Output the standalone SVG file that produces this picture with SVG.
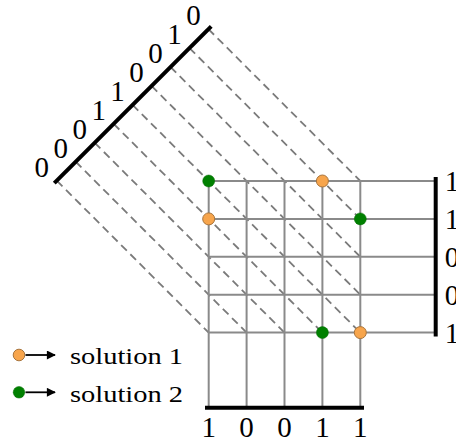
<svg xmlns="http://www.w3.org/2000/svg" width="456" height="443" viewBox="0 0 456 443">
<style>
.dash{stroke:#7a7a7a;stroke-width:1.8;stroke-dasharray:8 5;fill:none}
.grid{stroke:#8a8a8a;stroke-width:2;fill:none}
.bar{stroke:#000;stroke-width:4;fill:none}
.lbl{font-family:"Liberation Serif","DejaVu Serif",serif;font-size:29px;fill:#000;text-anchor:middle}
.leg{font-family:"Liberation Serif","DejaVu Serif",serif;font-size:24px;fill:#000}
.s1{fill:#f7a54c;stroke:#a8743c;stroke-width:1}
.s2{fill:#008000;stroke:#006b00;stroke-width:0.5}
.arr{stroke:#000;stroke-width:1.8;fill:none}
</style>
<defs>
<marker id="ah" viewBox="0 0 10 10" refX="9" refY="5" markerWidth="11" markerHeight="9" orient="auto" markerUnits="userSpaceOnUse">
<path d="M0,0 L10,5 L0,10 z" fill="#000"/>
</marker>
</defs>
<g id="connectors">
<line class="dash" x1="56.8" y1="180.7" x2="208.7" y2="332.6"/>
<line class="dash" x1="75.75" y1="161.75" x2="246.6" y2="332.6"/>
<line class="dash" x1="94.7" y1="142.8" x2="284.5" y2="332.6"/>
<line class="dash" x1="113.65" y1="123.85" x2="322.4" y2="332.6"/>
<line class="dash" x1="132.6" y1="104.9" x2="360.3" y2="332.6"/>
<line class="dash" x1="151.55" y1="85.95" x2="360.3" y2="294.7"/>
<line class="dash" x1="170.5" y1="67" x2="360.3" y2="256.8"/>
<line class="dash" x1="189.45" y1="48.05" x2="360.3" y2="218.9"/>
<line class="dash" x1="208.4" y1="29.1" x2="360.3" y2="181"/>
</g>
<g id="grid">
<line class="grid" x1="208.7" y1="181" x2="435.7" y2="181"/>
<line class="grid" x1="208.7" y1="218.9" x2="435.7" y2="218.9"/>
<line class="grid" x1="208.7" y1="256.8" x2="435.7" y2="256.8"/>
<line class="grid" x1="208.7" y1="294.7" x2="435.7" y2="294.7"/>
<line class="grid" x1="208.7" y1="332.6" x2="435.7" y2="332.6"/>
<line class="grid" x1="208.7" y1="181" x2="208.7" y2="407.7"/>
<line class="grid" x1="246.6" y1="181" x2="246.6" y2="407.7"/>
<line class="grid" x1="284.5" y1="181" x2="284.5" y2="407.7"/>
<line class="grid" x1="322.4" y1="181" x2="322.4" y2="407.7"/>
<line class="grid" x1="360.3" y1="181" x2="360.3" y2="407.7"/>
</g>
<g id="diag-bar">
<line class="bar" x1="54.3" y1="183.2" x2="211.2" y2="26.3"/>
<text class="lbl" x="41.8" y="177">0</text>
<text class="lbl" x="60.75" y="158">0</text>
<text class="lbl" x="79.7" y="139.1">0</text>
<text class="lbl" x="98.65" y="120.2">1</text>
<text class="lbl" x="117.6" y="101.2">1</text>
<text class="lbl" x="136.55" y="82.3">0</text>
<text class="lbl" x="155.5" y="63.3">0</text>
<text class="lbl" x="174.45" y="44.4">1</text>
<text class="lbl" x="193.4" y="25.4">0</text>
</g>
<g id="right-bar">
<line class="bar" x1="435.7" y1="177" x2="435.7" y2="336.5"/>
<text class="lbl" x="452" y="191">1</text>
<text class="lbl" x="452" y="228.9">1</text>
<text class="lbl" x="452" y="266.8">0</text>
<text class="lbl" x="452" y="304.7">0</text>
<text class="lbl" x="452" y="342.6">1</text>
</g>
<g id="bottom-bar">
<line class="bar" x1="205" y1="407.7" x2="364" y2="407.7"/>
<text class="lbl" x="208.7" y="437">1</text>
<text class="lbl" x="246.6" y="437">0</text>
<text class="lbl" x="284.5" y="437">0</text>
<text class="lbl" x="322.4" y="437">1</text>
<text class="lbl" x="360.3" y="437">1</text>
</g>
<g id="solution1-points">
<circle class="s1" cx="322.4" cy="181" r="6"/>
<circle class="s1" cx="208.7" cy="218.9" r="6"/>
<circle class="s1" cx="360.3" cy="332.6" r="6"/>
</g>
<g id="solution2-points">
<circle class="s2" cx="208.7" cy="181" r="6"/>
<circle class="s2" cx="360.3" cy="218.9" r="6"/>
<circle class="s2" cx="322.4" cy="332.6" r="6"/>
</g>
<g id="legend-1">
<circle class="s1" cx="19" cy="355" r="5.8"/>
<line class="arr" x1="25.5" y1="355" x2="55" y2="355" marker-end="url(#ah)"/>
<text class="leg" x="70" y="364.3" textLength="113" lengthAdjust="spacingAndGlyphs">solution 1</text>
</g>
<g id="legend-2">
<circle class="s2" cx="19" cy="392.3" r="5.8"/>
<line class="arr" x1="25.5" y1="392.3" x2="55" y2="392.3" marker-end="url(#ah)"/>
<text class="leg" x="70" y="401.6" textLength="113" lengthAdjust="spacingAndGlyphs">solution 2</text>
</g>
</svg>
